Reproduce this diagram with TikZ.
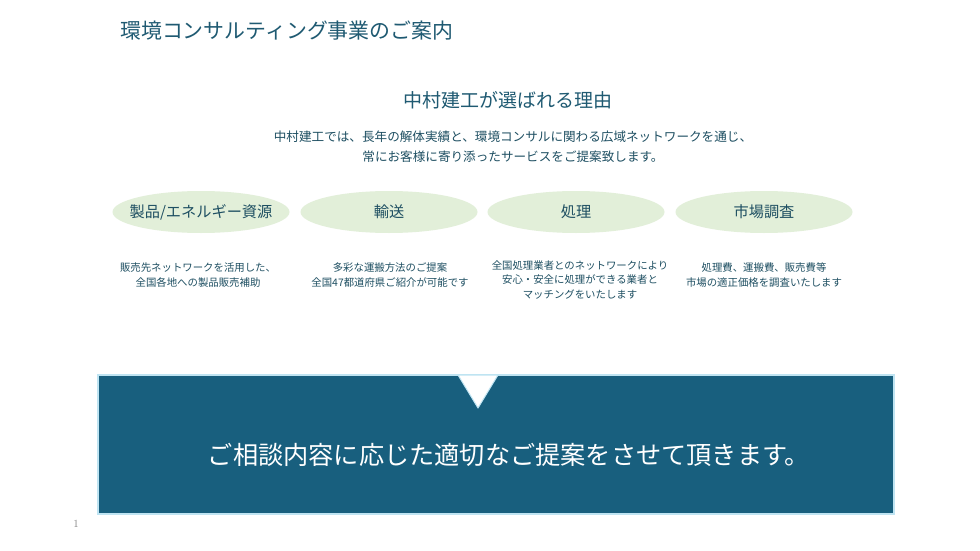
\documentclass[tikz,border=0pt]{standalone}
\usepackage{fontspec}
\usetikzlibrary{shapes.geometric}
\newfontfamily\jp{Noto Sans CJK JP}
\definecolor{titlec}{HTML}{1F5A72}
\definecolor{textc}{HTML}{1E4F62}
\definecolor{ellc}{HTML}{E2EFD9}
\definecolor{boxc}{HTML}{185F7E}
\definecolor{edgec}{HTML}{BFE4F2}
\tikzset{
  pill/.style={ellipse, fill=ellc, minimum width=177pt, minimum height=42pt, inner sep=0pt, text=textc, font=\jp\fontsize{15.2}{18}\selectfont},
  desc/.style={align=center, text=textc, inner sep=0pt, font=\jp\fontsize{10.4}{14.3}\selectfont},
}
\begin{document}
\begin{tikzpicture}[x=1pt,y=-1pt]
\useasboundingbox[fill=white] (0,0) rectangle (980,551);
\node[text=titlec, font=\jp\fontsize{20.9}{24}\selectfont, anchor=west, inner sep=0pt] (title) at (120,31) {環境コンサルティング事業のご案内};
\node[text=titlec, font=\jp\fontsize{19}{22}\selectfont, inner sep=0pt] (head) at (508,100) {中村建工が選ばれる理由};
\node[text=textc, align=center, inner sep=0pt, font=\jp\fontsize{12.6}{20}\selectfont] (para) at (513,147) {中村建工では、長年の解体実績と、環境コンサルに関わる広域ネットワークを通じ、\\常にお客様に寄り添ったサービスをご提案致します。};
\node[pill] (e1) at (201,212) {\makebox[0pt]{製品/エネルギー資源}};
\node[pill] (e2) at (389,212) {\makebox[0pt]{輸送}};
\node[pill] (e3) at (576,212) {\makebox[0pt]{処理}};
\node[pill] (e4) at (764,212) {\makebox[0pt]{市場調査}};
\node[desc] (d1) at (198,275) {販売先ネットワークを活用した、\\全国各地への製品販売補助};
\node[desc] (d2) at (390,275) {多彩な運搬方法のご提案\\全国47都道府県ご紹介が可能です};
\node[desc] (d3) at (580,280) {全国処理業者とのネットワークにより\\安心・安全に処理ができる業者と\\マッチングをいたします};
\node[desc] (d4) at (764,275) {処理費、運搬費、販売費等\\市場の適正価格を調査いたします};
\node[draw=edgec, line width=1.5pt, fill=boxc, minimum width=796pt, minimum height=139pt, inner sep=0pt] (box) at (496,444.5) {};
\coordinate (tl) at (458,375);
\coordinate (tr) at (498,375);
\coordinate (tip) at (478,408);
\filldraw[fill=white, draw=edgec, line width=1pt, line join=round] (tl) -- (tip) -- (tr) -- cycle;
\node[text=white, font=\jp\fontsize{25.2}{28}\selectfont, inner sep=0pt] (msg) at (509,455) {ご相談内容に応じた適切なご提案をさせて頂きます。};
\node[text=gray, font=\fontsize{11}{13}\selectfont, inner sep=0pt] (pg) at (76,524) {1};
\end{tikzpicture}
\end{document}
